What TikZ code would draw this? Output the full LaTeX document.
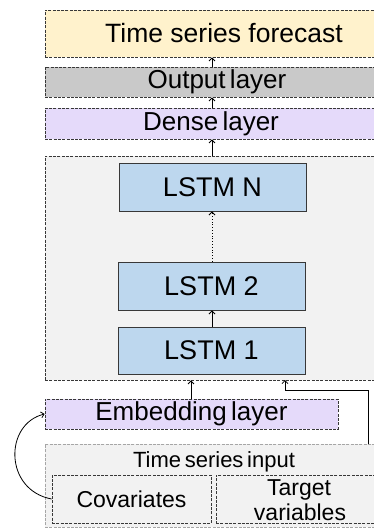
\documentclass[tikz,border=0pt]{standalone}
\usepackage{fontspec}
\setmainfont{Liberation Sans}
\newfontfamily\tightsans[WordSpace=0.6]{Liberation Sans}
\usetikzlibrary{arrows.meta,calc}
\definecolor{fcyellow}{HTML}{FFF2CC}
\definecolor{outgray}{HTML}{C9C9C9}
\definecolor{lav}{HTML}{E5DAFA}
\definecolor{lstmblue}{HTML}{BDD7EE}
\definecolor{lightbg}{HTML}{F2F2F2}
\definecolor{edge}{HTML}{383838}
\tikzset{
  dbox/.style={draw=edge, dash pattern=on 3pt off 1.3pt, line width=0.8pt, inner sep=0pt, rectangle},
  lbox/.style={draw=edge, line width=0.9pt, fill=lstmblue, rectangle, inner sep=0pt, minimum width=187pt},
  arr/.style={-{Straight Barb[length=3pt,width=6pt]}, line width=0.8pt, draw=black},
  big/.style={font=\fontsize{26}{30}\selectfont},
  bigtight/.style={font=\tightsans\fontsize{26}{30}\selectfont},
  lstmfont/.style={font=\fontsize{27}{30}\selectfont},
  small/.style={font=\fontsize{23}{25}\selectfont},
  smalltight/.style={font=\tightsans\fontsize{22}{25}\selectfont},
}
\begin{document}
\begin{tikzpicture}[x=1pt,y=-1pt]
\useasboundingbox (0,0) rectangle (374,528);
\clip (0,0) rectangle (374,528);
% top layers
\node[dbox, font=\fontsize{26.5}{30}\selectfont, fill=fcyellow, minimum width=358pt, minimum height=47pt] (fc) at (224,33.5) {Time series forecast};
\node[dbox, bigtight, fill=outgray, minimum width=344pt, minimum height=30pt] (out) at (217,82) {Output layer};
\node[dbox, bigtight, fill=lav, minimum width=332pt, minimum height=31pt] (dense) at (211,123.5) {Dense layer};
% LSTM container
\node[dbox, fill=lightbg, minimum width=345pt, minimum height=224pt] (cont) at (217.5,268) {};
\node[lbox, lstmfont, minimum height=48pt] (l3) at (212.5,187) {LSTM N};
\node[lbox, lstmfont, minimum height=48pt] (l2) at (211.5,286) {LSTM 2};
\node[lbox, lstmfont, minimum height=47pt] (l1) at (211.5,350.5) {LSTM 1};
% embedding
\node[dbox, bigtight, fill=lav, minimum width=293pt, minimum height=30pt] (emb) at (191.5,414) {Embedding layer};
% time series input
\node[dbox, draw=gray!70, fill=lightbg, minimum width=345pt, minimum height=83pt] (tsin) at (217.5,485.5) {};
\node[smalltight, anchor=base] (tstxt) at (214,467) {Time series input};
\node[dbox, small, fill=lightbg, minimum width=159pt, minimum height=48pt] (cov) at (131.5,499) {Covariates};
\node[dbox, fill=lightbg, minimum width=170pt, minimum height=48pt] (tgt) at (301,499) {};
\node[small, anchor=base] (tgt1) at (299,495) {Target};
\node[small, anchor=base] (tgt2) at (300,520) {variables};
% connectors
\draw[arr] (out.north -| 212,0) -- (fc.south -| 212,0);
\draw[arr] (dense.north -| 212,0) -- (out.south -| 212,0);
\draw[arr] (cont.north -| 212,0) -- (dense.south -| 212,0);
\draw[arr, dotted] (l2.north -| 212,0) -- (l3.south -| 212,0);
\draw[arr] (l1.north -| 212,0) -- (l2.south -| 212,0);
\draw[arr] (emb.north -| 191,0) -- (cont.south -| 191,0);
\coordinate (rin) at (368,444);
\coordinate (rout) at (285,380);
\draw[arr] (rin) |- ($(rout)+(0,10)$) -- (rout);
\draw[arr] (cov.west) .. controls (4,490) and (4,424) .. (emb.west);
\end{tikzpicture}
\end{document}
